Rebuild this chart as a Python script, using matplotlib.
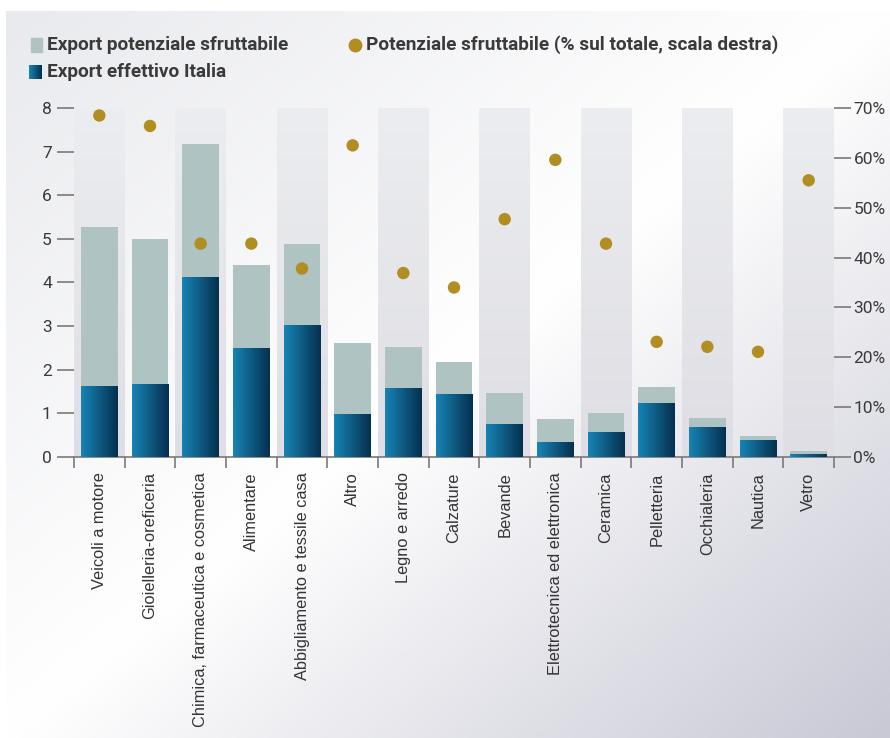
import matplotlib
matplotlib.use("Agg")
import matplotlib.pyplot as plt
import numpy as np
from matplotlib.colors import LinearSegmentedColormap
from matplotlib.patches import Rectangle

# data
categories = ["Veicoli a motore", "Gioielleria-oreficeria", "Chimica, farmaceutica e cosmetica",
              "Alimentare", "Abbigliamento e tessile casa", "Altro", "Legno e arredo",
              "Calzature", "Bevande", "Elettrotecnica ed elettronica", "Ceramica",
              "Pelletteria", "Occhialeria", "Nautica", "Vetro"]
potenziale = [5.28, 5.00, 7.18, 4.40, 4.89, 2.61, 2.52, 2.18, 1.47, 0.87, 1.01, 1.60, 0.89, 0.48, 0.14]
effettivo = [1.63, 1.67, 4.13, 2.51, 3.03, 0.99, 1.58, 1.44, 0.76, 0.34, 0.57, 1.24, 0.69, 0.39, 0.07]
quota_pct = [68.5, 66.4, 42.8, 42.8, 37.8, 62.5, 36.9, 34.0, 47.7, 59.6, 42.8, 23.1, 22.1, 21.1, 55.5]
left_ticks = [0, 1, 2, 3, 4, 5, 6, 7, 8]
right_ticks = [0, 10, 20, 30, 40, 50, 60, 70]

narrow = ["Roboto", "DejaVu Sans"]
txt_col = "#3a3a3a"
tick_col = "#7a7a7a"

W, H = 890, 738
fig = plt.figure(figsize=(W / 100, H / 100), dpi=100)

# diagonal background gradient
bg = fig.add_axes([6 / W, 0, 1 - 6 / W, 1 - 11 / H])
bg.set_axis_off()
gx, gy = np.meshgrid(np.linspace(0, 1, 300), np.linspace(0, 1, 300))
t = (gx + gy) / 2
bg_cmap = LinearSegmentedColormap.from_list("bg", [(0, "#e9eaee"), (0.5, "#ffffff"), (1, "#c8c9d5")])
bg.imshow(t, cmap=bg_cmap, aspect="auto", extent=[0, 1, 0, 1], origin="upper", vmin=0, vmax=1)

ax = fig.add_axes([74 / W, 1 - 457 / H, (834 - 74) / W, (457 - 108) / H])
ax.patch.set_visible(False)
x = np.arange(len(categories))

band_cmap = LinearSegmentedColormap.from_list("band", ["#dedee4", "#ecedf0"])
bar_cmap = LinearSegmentedColormap.from_list("bar", ["#1784b5", "#05304f"])
grad_v = np.linspace(0, 1, 100).reshape(-1, 1)
grad_h = np.linspace(0, 1, 100).reshape(1, -1)

for i in x:
    if i % 2 == 0:
        ax.imshow(grad_v, cmap=band_cmap, aspect="auto", origin="lower",
                  extent=[i - 0.5, i + 0.5, 0, 8], zorder=0)

bw = 0.73
ax.bar(x, potenziale, width=bw, color="#aec3c2", zorder=2)
dark = ax.bar(x, effettivo, width=bw, color="none", zorder=3)
for b in dark:
    xb, yb, wb, hb = b.get_x(), b.get_y(), b.get_width(), b.get_height()
    im = ax.imshow(grad_h, cmap=bar_cmap, aspect="auto", origin="lower",
                   extent=[xb, xb + wb, yb, yb + hb], zorder=3)
    im.set_clip_path(b)
ax.set_xlim(-0.5, len(categories) - 0.5)
ax.set_ylim(0, 8)

for s in ["top", "left", "right"]:
    ax.spines[s].set_visible(False)
ax.spines["bottom"].set_color(tick_col)
ax.spines["bottom"].set_linewidth(1.2)

ax.set_yticks(left_ticks)
ax.set_xticks(x)
ax.set_xticklabels(categories, rotation=90, fontsize=11.8, color="#333333",
                   family=["Liberation Sans", "DejaVu Sans"])
ax.set_xticks(np.arange(-0.5, len(categories)), minor=True)
ax.tick_params(axis="x", which="major", length=0, pad=11)
ax.tick_params(axis="x", which="minor", length=8, width=1.2, color=tick_col)
ax.tick_params(axis="y", length=12, width=1.2, color=tick_col, pad=4, labelsize=12.5, labelcolor=txt_col)
for lab in ax.get_yticklabels():
    lab.set_family(narrow)

ax2 = ax.twinx()
ax2.set_ylim(0, 70)
ax2.scatter(x, quota_pct, s=80, color="#b08e22", edgecolors="none", zorder=5)
for s in ["top", "left", "right", "bottom"]:
    ax2.spines[s].set_visible(False)
ax2.set_yticks(right_ticks)
ax2.set_yticklabels([f"{v}%" for v in right_ticks])
ax2.tick_params(axis="y", length=12, width=1.2, color=tick_col, pad=2, labelsize=12.5, labelcolor=txt_col)
for lab in ax2.get_yticklabels():
    lab.set_family(narrow)

# legend drawn by hand to match the two-column layout
fig.patches.append(Rectangle((31 / W, 1 - 52 / H), 11 / W, 14 / H, transform=fig.transFigure,
                             color="#aec3c2", figure=fig))
sw = fig.add_axes([29 / W, 1 - 79 / H, 13 / W, 14 / H])
sw.set_axis_off()
sw.imshow(grad_h, cmap=bar_cmap, aspect="auto")
leg_fs = 13.7
fig.text(47 / W, 1 - 45 / H, "Export potenziale sfruttabile", family=narrow, weight="bold",
         fontsize=leg_fs, color=txt_col, va="center")
fig.text(47 / W, 1 - 72 / H, "Export effettivo Italia", family=narrow, weight="bold",
         fontsize=leg_fs, color=txt_col, va="center")
fig.lines.append(plt.Line2D([355 / W], [1 - 45 / H], marker="o", markersize=9, color="#b08e22",
                            transform=fig.transFigure, figure=fig))
fig.text(366 / W, 1 - 45 / H, "Potenziale sfruttabile (% sul totale, scala destra)", family=narrow,
         weight="bold", fontsize=leg_fs, color=txt_col, va="center")

fig.savefig("out.png", dpi=100)
